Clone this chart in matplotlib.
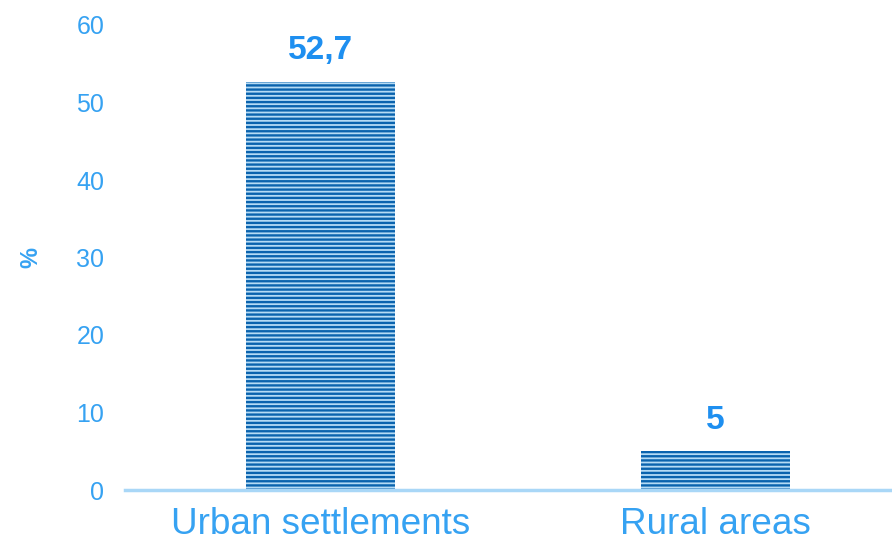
import matplotlib
matplotlib.use("Agg")
import matplotlib.pyplot as plt

categories = ["Urban settlements", "Rural areas"]
values = [52.7, 5]
value_labels = ["52,7", "5"]
yticks = [0, 10, 20, 30, 40, 50, 60]

plt.rcParams['font.family'] = ['Liberation Sans', 'DejaVu Sans']
plt.rcParams['hatch.linewidth'] = 1.7
plt.rcParams['hatch.color'] = '#0a63ae'

fig = plt.figure(figsize=(8.92, 5.5), dpi=100)
ax = fig.add_axes([125/892, 60/550, 1 - 125/892, 465/550])

x = list(range(len(categories)))
bars = ax.bar(x, values, width=149/394, color='#b5dbf5', hatch='----',
              edgecolor='#0a63ae', linewidth=0)

for xi, v, lab in zip(x, values, value_labels):
    ax.text(xi, v + 2.0, lab, ha='center', va='bottom', fontsize=24,
            fontweight='bold', color='#1e8ff0')

ax.set_xlim(-196/394, 1 + 177/394)
ax.set_ylim(0, 60)
ax.set_yticks(yticks)
ax.set_yticklabels([str(t) for t in yticks], fontsize=18, color='#36a2f2')
ax.set_xticks(x)
ax.set_xticklabels(categories, fontsize=26.6, color='#36a2f2')
ax.tick_params(axis='y', length=0, pad=15)
ax.tick_params(axis='x', length=0, pad=12)
for s in ['top', 'right', 'left']:
    ax.spines[s].set_visible(False)
ax.spines['bottom'].set_color('#a9d7f7')
ax.spines['bottom'].set_linewidth(2.5)
ax.set_ylabel('%', fontsize=17, fontweight='bold', color='#36a2f2', labelpad=24)

fig.savefig('out.png', dpi=100)
